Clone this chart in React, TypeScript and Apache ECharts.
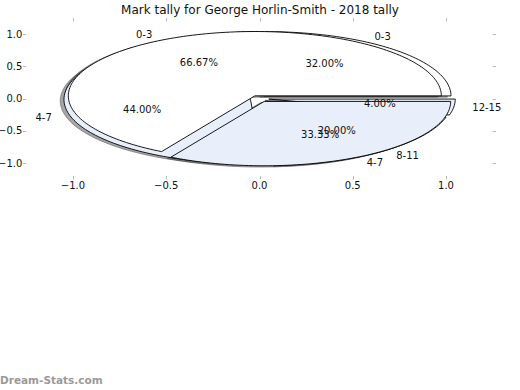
import React, { useEffect, useRef } from "react";
import * as echarts from "echarts";

const TITLE = "Mark tally for George Horlin-Smith - 2018 tally";
const WATERMARK = "Dream-Stats.com";

// Pie drawn on top (two slices)
const topPieLabels = ["0-3", "4-7"];
const topPieCounts = [2, 1];
// Pie drawn underneath (four slices)
const basePieLabels = ["0-3", "4-7", "8-11", "12-15"];
const basePieCounts = [8, 11, 5, 1];

// tick values / labels
const xTicks = [-1, -0.5, 0, 0.5, 1];
const yTicks = [-1, -0.5, 0, 0.5, 1];
const TICK_MIN = -1;
const TICK_MAX = 1;
const TICK_STEP = 0.5;
// plot frame limits (data units)
const FRAME_X = 1.25;
const FRAME_Y = 1.2;

const sliceColors = ["#ffffff", "#e8effb"];
const EXPLODE = 0.05;
const SHADOW = -0.02;
const FONT = "DejaVu Sans";
const TICK_LEN = 3.5;

const pies = [
  { labels: topPieLabels, counts: topPieCounts },
  { labels: basePieLabels, counts: basePieCounts },
];

function sliceAngles(counts: number[], s: number) {
  const total = counts.reduce((a, b) => a + b, 0);
  let before = 0;
  for (let i = 0; i < s; i++) before += counts[i];
  const a0 = (before / total) * Math.PI * 2;
  const a1 = ((before + counts[s]) / total) * Math.PI * 2;
  return { a0, a1, frac: counts[s] / total };
}

export default function App() {
  const ref = useRef<HTMLDivElement>(null);
  useEffect(() => {
    if (!ref.current) return;
    const chart = echarts.init(ref.current, undefined, { renderer: "svg" });

    const items: number[][] = [];
    xTicks.forEach((_, i) => items.push([3, 0, i]));
    yTicks.forEach((_, i) => items.push([3, 1, i]));
    const order = [1, 0];
    for (const p of order) for (let s = 0; s < pies[p].counts.length; s++) items.push([0, p, s]);
    for (const p of order) for (let s = 0; s < pies[p].counts.length; s++) items.push([1, p, s]);
    for (const p of order) for (let s = 0; s < pies[p].counts.length; s++) items.push([2, p, s]);

    const tickLine = { stroke: "#b8b8b8", lineWidth: 1 };

    const renderItem = (params: any, api: any) => {
      const kind = api.value(0);
      const p = api.value(1);
      const s = api.value(2);
      if (kind === 3) {
        if (p === 0) {
          const v = xTicks[s];
          const top = api.coord([v, FRAME_Y]);
          const bot = api.coord([v, -FRAME_Y]);
          const x = Math.round(top[0]) + 0.5;
          return {
            type: "group",
            children: [
              { type: "line", shape: { x1: x, y1: top[1], x2: x, y2: top[1] - TICK_LEN }, style: tickLine },
              { type: "line", shape: { x1: x, y1: bot[1], x2: x, y2: bot[1] + TICK_LEN }, style: tickLine },
            ],
          };
        }
        const v = yTicks[s];
        const left = api.coord([-FRAME_X, v]);
        const right = api.coord([FRAME_X, v]);
        const y = Math.round(left[1]) + 0.5;
        return {
          type: "group",
          children: [
            { type: "line", shape: { x1: left[0], y1: y, x2: left[0] - TICK_LEN, y2: y }, style: tickLine },
            { type: "line", shape: { x1: right[0], y1: y, x2: right[0] + TICK_LEN, y2: y }, style: tickLine },
          ],
        };
      }
      const pie = pies[p];
      const { a0, a1, frac } = sliceAngles(pie.counts, s);
      const mid = (a0 + a1) / 2;
      const cx = EXPLODE * Math.cos(mid);
      const cy = EXPLODE * Math.sin(mid);
      if (kind === 0 || kind === 1) {
        const off = kind === 0 ? SHADOW : 0;
        const steps = Math.max(4, Math.ceil(((a1 - a0) / (Math.PI * 2)) * 240));
        const pts: number[][] = [api.coord([cx + off, cy + off])];
        for (let i = 0; i <= steps; i++) {
          const a = a0 + ((a1 - a0) * i) / steps;
          pts.push(api.coord([cx + off + Math.cos(a), cy + off + Math.sin(a)]));
        }
        if (kind === 0) {
          return {
            type: "polygon",
            shape: { points: pts },
            style: { fill: "rgba(77,77,77,0.5)", stroke: "rgba(77,77,77,0.5)", lineWidth: 1 },
          };
        }
        return {
          type: "polygon",
          shape: { points: pts },
          style: { fill: sliceColors[s % sliceColors.length], stroke: "#000", lineWidth: 0.9 },
        };
      }
      const lx = cx + 1.1 * Math.cos(mid);
      const lp = api.coord([lx, cy + 1.1 * Math.sin(mid)]);
      const pp = api.coord([cx + 0.6 * Math.cos(mid), cy + 0.6 * Math.sin(mid)]);
      return {
        type: "group",
        children: [
          {
            type: "text",
            x: lp[0],
            y: lp[1],
            style: {
              text: pie.labels[s],
              fill: "#111",
              fontFamily: FONT,
              fontSize: 10,
              align: lx > 0 ? "left" : "right",
              verticalAlign: "middle",
            },
          },
          {
            type: "text",
            x: pp[0],
            y: pp[1],
            style: {
              text: (frac * 100).toFixed(2) + "%",
              fill: "#111",
              fontFamily: FONT,
              fontSize: 10,
              align: "center",
              verticalAlign: "middle",
            },
          },
        ],
      };
    };

    const fmt = (v: number) => (v < 0 ? "\u2212" + Math.abs(v).toFixed(1) : v.toFixed(1));
    const base = {
      type: "value",
      min: TICK_MIN,
      max: TICK_MAX,
      interval: TICK_STEP,
      axisLine: { show: false },
      splitLine: { show: false },
      axisTick: { show: false },
    };
    const labelStyle = { formatter: fmt, fontFamily: FONT, fontSize: 10, color: "#111" };

    chart.setOption({
      animation: false,
      title: {
        text: TITLE,
        left: "center",
        top: 4,
        padding: 0,
        textStyle: { fontFamily: FONT, fontSize: 12, fontWeight: "normal", color: "#111" },
      },
      grid: {
        left: 73,
        top: 34.3,
        width: 373,
        height: 128.7,
        containLabel: false,
        outerBoundsMode: "none",
      },
      xAxis: [{ ...base, position: "bottom", offset: 12.9, axisLabel: { ...labelStyle, margin: 5 } }],
      yAxis: [{ ...base, position: "left", offset: 46.6, axisLabel: { ...labelStyle, margin: 4 } }],
      graphic: [
        {
          type: "text",
          left: 0,
          top: 374,
          style: {
            text: WATERMARK,
            fill: "#9a9a9a",
            fontFamily: FONT,
            fontSize: 10.5,
            fontWeight: "bold",
          },
        },
      ],
      series: [
        {
          type: "custom",
          coordinateSystem: "cartesian2d",
          xAxisIndex: 0,
          yAxisIndex: 0,
          renderItem,
          data: items,
          clip: false,
          silent: true,
        },
      ],
    });
    return () => chart.dispose();
  }, []);
  return (
    <div
      ref={ref}
      style={{ position: "fixed", left: 0, top: 0, width: 520, height: 390, background: "#fff" }}
    />
  );
}
